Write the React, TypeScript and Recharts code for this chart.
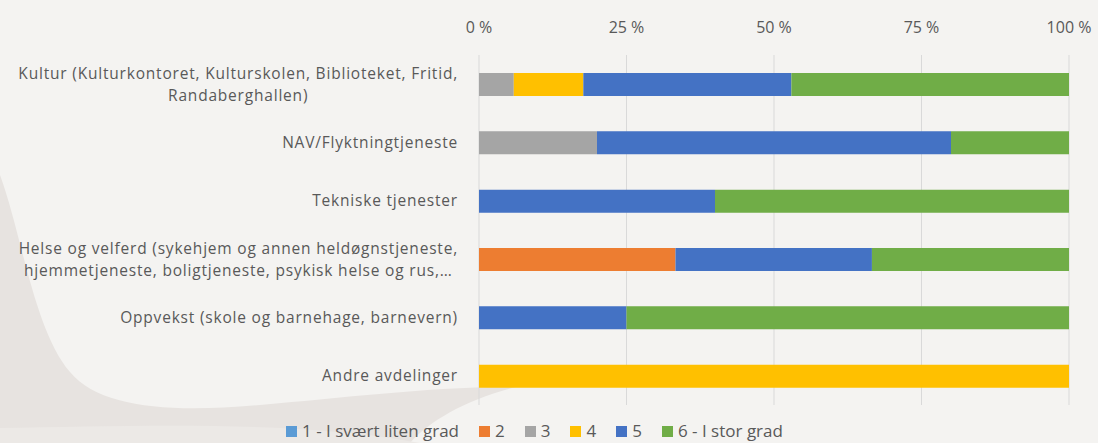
import React from 'react';
import { BarChart, Bar, XAxis, YAxis, CartesianGrid, Legend } from 'recharts';

const categories = [
  'Kultur (Kulturkontoret, Kulturskolen, Biblioteket, Fritid,\nRandaberghallen)',
  'NAV/Flyktningtjeneste',
  'Tekniske tjenester',
  'Helse og velferd (sykehjem og annen heldøgnstjeneste,\nhjemmetjeneste, boligtjeneste, psykisk helse og rus,…',
  'Oppvekst (skole og barnehage, barnevern)',
  'Andre avdelinger',
];

// share of answers per category (percent)
const grad1 = [0, 0, 0, 0, 0, 0];
const grad2 = [0, 0, 0, 33.3, 0, 0];
const grad3 = [5.9, 20, 0, 0, 0, 0];
const grad4 = [11.8, 0, 0, 0, 0, 100];
const grad5 = [35.3, 60, 40, 33.3, 25, 0];
const grad6 = [47.1, 20, 60, 33.4, 75, 0];

const seriesNames = ['1 - I svært liten grad', '2', '3', '4', '5', '6 - I stor grad'];
const xTicks = [0, 0.25, 0.5, 0.75, 1];

const COLORS = ['#5b9bd5', '#ed7d31', '#a5a5a5', '#ffc000', '#4472c4', '#70ad47'];
const TEXT = '#595959';
const FONT = '"Open Sans", Lato, sans-serif';
const CAT_SIZE = 15.5;
const CAT_SPACING = 0.8;

const data = categories.map((name, i) => ({
  name,
  g1: grad1[i],
  g2: grad2[i],
  g3: grad3[i],
  g4: grad4[i],
  g5: grad5[i],
  g6: grad6[i],
}));

let measureCtx: CanvasRenderingContext2D | null = null;
const textWidth = (s: string) => {
  if (!measureCtx) measureCtx = document.createElement('canvas').getContext('2d');
  if (!measureCtx) return s.length * 8;
  measureCtx.font = `${CAT_SIZE}px "Open Sans"`;
  return measureCtx.measureText(s).width + s.length * CAT_SPACING;
};

const CategoryTick = (props: any) => {
  const { x, y, payload } = props;
  const lines: string[] = String(payload.value).split('\n');
  const widest = Math.max(...lines.map((l) => textWidth(l)));
  const cx = x - widest / 2;
  const lh = 22;
  const start = y - ((lines.length - 1) * lh) / 2;
  return (
    <g>
      {lines.map((l, i) => (
        <text
          key={i}
          x={cx}
          y={start + i * lh}
          dy="0.35em"
          textAnchor="middle"
          fill={TEXT}
          fontSize={CAT_SIZE}
          fontFamily={FONT}
          letterSpacing={CAT_SPACING}
        >
          {l}
        </text>
      ))}
    </g>
  );
};

const LegendContent = () => (
  <div style={{ height: 38, display: 'flex', justifyContent: 'center', alignItems: 'flex-end' }}>
    {seriesNames.map((n, i) => (
      <div key={n} style={{ display: 'flex', alignItems: 'center', marginRight: i < seriesNames.length - 1 ? 20 : 0, paddingBottom: 1 }}>
        <span style={{ width: 11, height: 11, background: COLORS[i], display: 'inline-block', marginRight: 5 }} />
        <span style={{ fontSize: 17, color: TEXT, fontFamily: FONT, lineHeight: '22px' }}>{n}</span>
      </div>
    ))}
  </div>
);

export default function App() {
  return (
    <div style={{ position: 'absolute', left: 0, top: 0, width: 1098, height: 443, background: '#f4f3f1', overflow: 'hidden' }}>
      <svg width={1098} height={443} style={{ position: 'absolute', left: 0, top: 0 }}>
        <path
          d="M0,175 C22,235 34,330 70,372 C100,408 170,413 260,405 C350,397 420,388 520,386 C470,398 430,420 410,443 L0,443 Z"
          fill="#e7e3e0"
        />
        <path d="M0,443 L0,428 C140,426 300,420 420,443 Z" fill="#ece9e6" />
      </svg>
      <div style={{ position: 'absolute', left: 0, top: 0 }}>
        <BarChart
          width={1098}
          height={443}
          data={data}
          layout="vertical"
          stackOffset="expand"
          margin={{ top: 0, right: 29, bottom: 0, left: 0 }}
          barSize={23}
        >
          <CartesianGrid horizontal={false} stroke="#d9d9d9" />
          <XAxis
            type="number"
            orientation="top"
            domain={[0, 1]}
            ticks={xTicks}
            tickFormatter={(v: number) => `${Math.round(v * 100)} %`}
            axisLine={false}
            tickLine={false}
            tickSize={0}
            tickMargin={22}
            height={55}
            tick={{ fill: TEXT, fontSize: 16, fontFamily: FONT }}
          />
          <YAxis
            type="category"
            dataKey="name"
            width={479}
            axisLine={false}
            tickLine={false}
            tickSize={0}
            tickMargin={21}
            interval={0}
            tick={<CategoryTick />}
          />
          <Legend verticalAlign="bottom" height={38} content={<LegendContent />} />
          {['g1', 'g2', 'g3', 'g4', 'g5', 'g6'].map((k, i) => (
            <Bar key={k} dataKey={k} name={seriesNames[i]} stackId="a" fill={COLORS[i]} isAnimationActive={false} />
          ))}
        </BarChart>
      </div>
    </div>
  );
}
